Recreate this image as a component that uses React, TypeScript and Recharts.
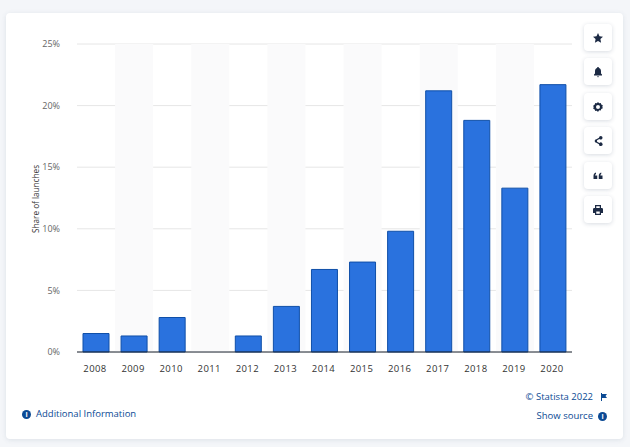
import { Bar, BarChart, CartesianGrid, ReferenceArea, XAxis, YAxis } from "recharts";

const years = ["2008", "2009", "2010", "2011", "2012", "2013", "2014", "2015", "2016", "2017", "2018", "2019", "2020"];
const shares = [1.5, 1.3, 2.8, 0, 1.3, 3.7, 6.7, 7.3, 9.8, 21.2, 18.8, 13.3, 21.7];
const yTicks = [0, 5, 10, 15, 20, 25];
const stripedYears = ["2009", "2011", "2013", "2015", "2017", "2019"];

const data = years.map((year, i) => ({ year, share: shares[i] }));

const iconPaths = [
    "M12 2l3 6.600 7 .8-5.200 4.800 1.400 7.100L12 17.800 5.800 21.300l1.400-7.100L2 9.400l7-.8z",
    "M12 2a2 2 0 0 1 2 2c3 1 4 3.500 4 6.500V15l2 2v2H4v-2l2-2v-4.500C6 7.500 7 5 10 4a2 2 0 0 1 2-2zM10 20.500h4L12 23z",
    "M12 2l2.300 2.400 3.200-.6 1 3.200 3.100 1.300-.9 3.200.9 3.100-3.100 1.300-1 3.200-3.200-.6L12 22l-2.300-2.400-3.200.6-1-3.200-3.100-1.300.9-3.100-.9-3.200L5.500 7l1-3.200 3.200.6zM12 8a4 4 0 1 0 0 8 4 4 0 0 0 0-8z",
    "M17.500 2a3.500 3.500 0 1 1-2.600 5.800L10 10.500a3.500 3.500 0 0 1 0 3l4.900 2.700A3.500 3.500 0 1 1 14 18.500l-5.200-3a3.500 3.500 0 1 1 0-7L14 5.500A3.500 3.500 0 0 1 17.500 2z",
    "M3 18v-6c0-3.500 1.700-5.800 5-7v3c-1.200.6-1.800 1.500-1.800 3H10.500v7zM13.500 18v-6c0-3.500 1.700-5.800 5-7v3c-1.200.6-1.800 1.500-1.800 3H21v7z",
    "M6 2h12v6h1.500A2.500 2.500 0 0 1 22 10.500V18h-4v4H6v-4H2v-7.500A2.500 2.500 0 0 1 4.500 8H6zM8.500 4.500V8h7V4.500zM8.500 15v4.500h7V15z",
];
const iconTops = [24, 58, 93, 127, 162, 196];

function InfoDot({ left, top }: { left: number; top: number }) {
    return (
        <div
            style={{
                position: "absolute",
                left,
                top,
                width: 9,
                height: 9,
                borderRadius: "50%",
                background: "#0b4a94",
                color: "#fff",
                fontSize: 7,
                lineHeight: "9px",
                textAlign: "center",
                fontWeight: 700,
            }}
        >
            i
        </div>
    );
}

export default function App() {
    return (
        <div
            style={{
                position: "absolute",
                left: 0,
                top: 0,
                width: 630,
                height: 447,
                background: "#f4f6f9",
                overflow: "hidden",
                fontFamily: "'Open Sans', sans-serif",
            }}
        >
            <div
                style={{
                    position: "absolute",
                    left: 6,
                    top: 13,
                    width: 617,
                    height: 426,
                    background: "#fff",
                    borderRadius: 4,
                    boxShadow: "0 1px 5px rgba(60,80,110,0.12)",
                }}
            />
            <div style={{ position: "absolute", left: 0, top: 0 }}>
                <BarChart
                    width={630}
                    height={447}
                    data={data}
                    margin={{ top: 44, right: 58, bottom: 70, left: 0 }}
                >
                    {stripedYears.map((y) => (
                        <ReferenceArea key={y} x1={y} x2={y} y1={0} y2={25} fill="#fafafb" fillOpacity={1} stroke="none" />
                    ))}
                    <CartesianGrid vertical={false} stroke="#fff" strokeWidth={5} />
                    <CartesianGrid vertical={false} stroke="#e6e6e6" strokeWidth={1} />
                    <XAxis
                        dataKey="year"
                        height={25}
                        interval={0}
                        tickLine={false}
                        axisLine={{ stroke: "#1c2430", strokeWidth: 1 }}
                        tickMargin={7}
                        tick={{ fontSize: 9.5, fill: "#333", letterSpacing: 0.4, dx: -1 }}
                    />
                    <YAxis
                        width={77}
                        domain={[0, 25]}
                        ticks={yTicks}
                        tickLine={false}
                        axisLine={false}
                        tickMargin={11}
                        tickFormatter={(v) => `${v}%`}
                        tick={{ fontSize: 9, fill: "#666" }}
                        label={{
                            value: "Share of launches",
                            angle: -90,
                            position: "insideLeft",
                            dx: 31,
                            dy: 35,
                            style: { fontSize: 8.2, fill: "#333" },
                        }}
                    />
                    <Bar
                        dataKey="share"
                        barSize={26}
                        fill="#2a72de"
                        stroke="#0f4fa8"
                        strokeWidth={1}
                        isAnimationActive={false}
                    />
                </BarChart>
            </div>

            {iconTops.map((top, i) => (
                <div
                    key={top}
                    style={{
                        position: "absolute",
                        left: 584,
                        top,
                        width: 28,
                        height: 27,
                        background: "#fff",
                        borderRadius: 4,
                        boxShadow: "0 1px 4px rgba(60,80,110,0.2)",
                        display: "flex",
                        alignItems: "center",
                        justifyContent: "center",
                    }}
                >
                    <svg width={12} height={12} viewBox="0 0 24 24">
                        <path d={iconPaths[i]} fill="#1c2a44" fillRule="evenodd" />
                    </svg>
                </div>
            ))}

            <InfoDot left={22} top={410} />
            <div style={{ position: "absolute", left: 36, top: 407, fontSize: 9.5, lineHeight: "14px", color: "#0b4a94" }}>
                Additional Information
            </div>
            <div
                style={{
                    position: "absolute",
                    right: 37,
                    top: 390,
                    fontSize: 9.5,
                    lineHeight: "14px",
                    color: "#0b4a94",
                    whiteSpace: "nowrap",
                }}
            >
                © Statista 2022
            </div>
            <svg style={{ position: "absolute", left: 600, top: 393 }} width={8} height={8} viewBox="0 0 8 8">
                <path d="M1 0h1v1h5l-1.500 2L7 5H2v3H1z" fill="#0b4a94" />
            </svg>
            <div
                style={{
                    position: "absolute",
                    right: 37,
                    top: 409,
                    fontSize: 9.5,
                    lineHeight: "14px",
                    color: "#0b4a94",
                    whiteSpace: "nowrap",
                }}
            >
                Show source
            </div>
            <InfoDot left={598} top={412} />
        </div>
    );
}
